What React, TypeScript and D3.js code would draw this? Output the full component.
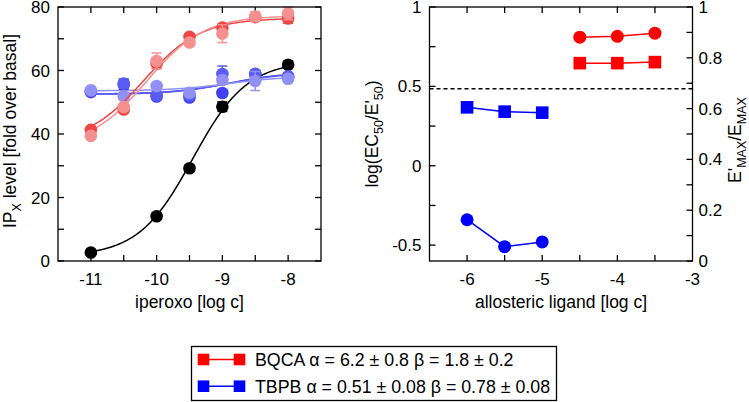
import React from "react";
import * as d3 from "d3";

// ---------- DATA ----------
// Left panel: iperoxo concentration-response
const ipX = [-11, -10.5, -10, -9.5, -9, -8.5, -8];
const blackX = [-11, -10, -9.5, -9, -8];
const blackY = [2.7, 14.1, 29.2, 48.6, 61.8];
const blackErr = [0.8, 1, 1, 1.5, 1];

const red1Y = [41.3, 47.7, 62.2, 70.6, 73.5, 76.8, 76.4];
const red1Err = [1, 1, 1.5, 1, 1, 1, 1.5];
const red2Y = [39.4, 48.5, 63.0, 68.8, 71.6, 77.0, 78.0];
const red2Err = [1, 1, 2.5, 1, 2.8, 1.5, 2];

const blue1Y = [53.2, 55.6, 51.8, 51.5, 52.9, 58.8, 57.8];
const blue1Err = [1, 1.5, 1, 1, 1, 1, 1];
const blue2Y = [53.5, 55.9, 52.2, 52.2, 58.9, 59.0, 58.2];
const blue2Err = [1, 1.5, 1, 1.5, 2.5, 1, 1];
const blue3Y = [53.8, 51.9, 55.1, 53.0, 57.0, 56.7, 57.4];
const blue3Err = [1, 1, 1, 1, 1, 3, 1];

// fitted curve parameters: [bottom, top, logEC50, hill]
const blackFit = [1.5, 63, -9.45, 1.05];
const red1Fit = [37, 76.5, -10.2, 1];
const red2Fit = [36, 77.3, -10.15, 1];
const blue1Fit = [52.5, 59.5, -8.9, 1];
const blue2Fit = [52.6, 59.3, -8.9, 1];
const blue3Fit = [53.6, 58.2, -8.9, 1];

// Right panel: allosteric ligand
const tbpbX = [-6, -5.5, -5];
const bqcaX = [-4.5, -4, -3.5];
const tbpbLogRatio = [-0.34, -0.51, -0.48];
const bqcaLogRatio = [0.81, 0.815, 0.835];
const tbpbEmaxRatio = [0.605, 0.588, 0.584];
const bqcaEmaxRatio = [0.779, 0.779, 0.783];
const dashedLevel = 0.485;

// tick labels
const leftXTicks = [-11, -10, -9, -8];
const leftYTicks = [0, 20, 40, 60, 80];
const rightXTicks = [-6, -5, -4, -3];
const rightYLTicks = [-0.5, 0, 0.5, 1];
const rightYRTicks = [0, 0.2, 0.4, 0.6, 0.8, 1];

const legendLabels = [
  "BQCA \u03b1 = 6.2 \u00b1 0.8 \u03b2 = 1.8 \u00b1 0.2",
  "TBPB \u03b1 = 0.51 \u00b1 0.08 \u03b2 = 0.78 \u00b1 0.08",
];

// ---------- STYLE ----------
const FONT = "'Liberation Sans', Arial, Helvetica, sans-serif";
const C_BLACK = "#000";
const C_RED1 = "#f04545";
const C_RED2 = "#f59090";
const C_BLUE1 = "#4040f2";
const C_BLUE2 = "#5a5af5";
const C_BLUE3 = "#9090f5";
const C_RED = "#ff0000";
const C_BLUE = "#0000ff";

const W = 749, H = 402;
const L = { x0: 58, x1: 321, y0: 7, y1: 261 };
const R = { x0: 429.5, x1: 692.5, y0: 7, y1: 261 };
const TICK = 6;

const xL = d3.scaleLinear().domain([-11.5, -7.5]).range([L.x0, L.x1]);
const yL = d3.scaleLinear().domain([0, 80]).range([L.y1, L.y0]);
const xR = d3.scaleLinear().domain([-6.5, -3]).range([R.x0, R.x1]);
const yRL = d3.scaleLinear().domain([-0.6, 1]).range([R.y1, R.y0]);
const yRR = d3.scaleLinear().domain([0, 1]).range([R.y1, R.y0]);

const fitFn = (p: number[]) => (x: number) =>
  p[0] + (p[1] - p[0]) / (1 + Math.pow(10, (p[2] - x) * p[3]));

const curveXs = d3.range(-11, -7.999, 0.02);

function FitCurve({ p, color }: { p: number[]; color: string }) {
  const f = fitFn(p);
  const line = d3
    .line<number>()
    .x((d) => xL(d))
    .y((d) => yL(f(d)));
  return <path d={line(curveXs) || ""} fill="none" stroke={color} strokeWidth={1.5} />;
}

function Points({ xs, ys, errs, color }: { xs: number[]; ys: number[]; errs: number[]; color: string }) {
  return (
    <g>
      {xs.map((x, i) => {
        const cx = xL(x);
        const yt = yL(ys[i] + errs[i]);
        const yb = yL(ys[i] - errs[i]);
        return (
          <g key={i}>
            <line x1={cx} x2={cx} y1={yt} y2={yb} stroke={color} strokeWidth={1.5} />
            <line x1={cx - 5} x2={cx + 5} y1={yt} y2={yt} stroke={color} strokeWidth={1.5} />
            <line x1={cx - 5} x2={cx + 5} y1={yb} y2={yb} stroke={color} strokeWidth={1.5} />
            <circle cx={cx} cy={yL(ys[i])} r={6.3} fill={color} />
          </g>
        );
      })}
    </g>
  );
}

function RightSeries({ xs, ys, scale, color, shape }: { xs: number[]; ys: number[]; scale: d3.ScaleLinear<number, number>; color: string; shape: "circle" | "square" }) {
  const line = d3
    .line<number>()
    .x((d, i) => xR(xs[i]))
    .y((d) => scale(d));
  return (
    <g>
      <path d={line(ys) || ""} fill="none" stroke={color} strokeWidth={1.5} />
      {xs.map((x, i) =>
        shape === "circle" ? (
          <circle key={i} cx={xR(x)} cy={scale(ys[i])} r={6.5} fill={color} />
        ) : (
          <rect key={i} x={xR(x) - 6.3} y={scale(ys[i]) - 6.3} width={12.6} height={12.6} fill={color} />
        )
      )}
    </g>
  );
}

const tickStyle = { fontFamily: FONT, fontSize: 17, fill: "#000" } as const;
const titleStyle = { fontFamily: FONT, fontSize: 17.5, fill: "#000" } as const;

export default function App() {
  const lxMinor = d3.range(-11, -7.99, 0.5);
  const lyMinor = d3.range(0, 80.01, 10);
  const rxMinor = d3.range(-6, -3.01, 0.5);
  const ryLMinor = d3.range(-0.5, 1.01, 0.25);
  const ryRMinor = d3.range(0, 1.001, 0.1);
  const ax = { stroke: "#000", strokeWidth: 1.3 };

  return (
    <svg width={W} height={H} style={{ position: "absolute", left: 0, top: 0, background: "#fff" }}>
      <rect x={0} y={0} width={W} height={H} fill="#fff" />
      {/* ---------- LEFT PANEL ---------- */}
      <g>
        {lxMinor.map((v, i) => (
          <g key={"lx" + i}>
            <line x1={xL(v)} x2={xL(v)} y1={L.y1} y2={L.y1 - TICK} {...ax} />
            <line x1={xL(v)} x2={xL(v)} y1={L.y0} y2={L.y0 + TICK} {...ax} />
          </g>
        ))}
        {lyMinor.map((v, i) => (
          <g key={"ly" + i}>
            <line x1={L.x0} x2={L.x0 + TICK} y1={yL(v)} y2={yL(v)} {...ax} />
            <line x1={L.x1} x2={L.x1 - TICK} y1={yL(v)} y2={yL(v)} {...ax} />
          </g>
        ))}
        {leftXTicks.map((v) => (
          <text key={"lxt" + v} x={xL(v)} y={285} textAnchor="middle" style={tickStyle}>
            {v}
          </text>
        ))}
        {leftYTicks.map((v) => (
          <text key={"lyt" + v} x={L.x0 - 8} y={yL(v) + 6} textAnchor="end" style={tickStyle}>
            {v}
          </text>
        ))}
        <text x={(L.x0 + L.x1) / 2} y={308} textAnchor="middle" style={titleStyle}>
          iperoxo [log c]
        </text>
        <text transform={`translate(16,131) rotate(-90)`} textAnchor="middle" style={titleStyle}>
          IP
          <tspan dy={5} fontSize={12.5}>X</tspan>
          <tspan dy={-5}> level [fold over basal]</tspan>
        </text>

        <FitCurve p={blackFit} color={C_BLACK} />
        <Points xs={blackX} ys={blackY} errs={blackErr} color={C_BLACK} />

        <FitCurve p={blue1Fit} color={C_BLUE1} />
        <FitCurve p={blue2Fit} color={C_BLUE2} />
        <FitCurve p={blue3Fit} color={C_BLUE3} />
        <Points xs={ipX} ys={blue1Y} errs={blue1Err} color={C_BLUE1} />
        <Points xs={ipX} ys={blue2Y} errs={blue2Err} color={C_BLUE2} />
        <Points xs={ipX} ys={blue3Y} errs={blue3Err} color={C_BLUE3} />

        <FitCurve p={red1Fit} color={C_RED1} />
        <FitCurve p={red2Fit} color={C_RED2} />
        <Points xs={ipX} ys={red1Y} errs={red1Err} color={C_RED1} />
        <Points xs={ipX} ys={red2Y} errs={red2Err} color={C_RED2} />

        <rect x={L.x0} y={L.y0} width={L.x1 - L.x0} height={L.y1 - L.y0} fill="none" {...ax} />
      </g>

      {/* ---------- RIGHT PANEL ---------- */}
      <g>
        {rxMinor.map((v, i) => (
          <g key={"rx" + i}>
            <line x1={xR(v)} x2={xR(v)} y1={R.y1} y2={R.y1 - TICK} {...ax} />
            <line x1={xR(v)} x2={xR(v)} y1={R.y0} y2={R.y0 + TICK} {...ax} />
          </g>
        ))}
        {ryLMinor.map((v, i) => (
          <line key={"ryl" + i} x1={R.x0} x2={R.x0 + TICK} y1={yRL(v)} y2={yRL(v)} {...ax} />
        ))}
        {ryRMinor.map((v, i) => (
          <line key={"ryr" + i} x1={R.x1} x2={R.x1 - TICK} y1={yRR(v)} y2={yRR(v)} {...ax} />
        ))}
        {rightXTicks.map((v) => (
          <text key={"rxt" + v} x={xR(v)} y={285} textAnchor="middle" style={tickStyle}>
            {v}
          </text>
        ))}
        {rightYLTicks.map((v) => (
          <text key={"rylt" + v} x={R.x0 - 8} y={yRL(v) + 6} textAnchor="end" style={tickStyle}>
            {v}
          </text>
        ))}
        {rightYRTicks.map((v) => (
          <text key={"ryrt" + v} x={R.x1 + 6} y={yRR(v) + 6} textAnchor="start" style={tickStyle}>
            {v}
          </text>
        ))}
        <text x={(R.x0 + R.x1) / 2} y={308} textAnchor="middle" style={titleStyle}>
          allosteric ligand [log c]
        </text>
        <text transform={`translate(378,134) rotate(-90)`} textAnchor="middle" style={titleStyle}>
          log(EC
          <tspan dy={5} fontSize={12.5}>50</tspan>
          <tspan dy={-5}>/E'</tspan>
          <tspan dy={5} fontSize={12.5}>50</tspan>
          <tspan dy={-5}>)</tspan>
        </text>
        <text transform={`translate(741,140) rotate(-90)`} textAnchor="middle" style={titleStyle}>
          E'
          <tspan dy={5} fontSize={12.5}>MAX</tspan>
          <tspan dy={-5}>/E</tspan>
          <tspan dy={5} fontSize={12.5}>MAX</tspan>
        </text>

        <line
          x1={R.x0}
          x2={R.x1}
          y1={yRL(dashedLevel)}
          y2={yRL(dashedLevel)}
          stroke="#000"
          strokeWidth={1.4}
          strokeDasharray="4,3"
        />

        <RightSeries xs={tbpbX} ys={tbpbLogRatio} scale={yRL} color={C_BLUE} shape="circle" />
        <RightSeries xs={tbpbX} ys={tbpbEmaxRatio} scale={yRR} color={C_BLUE} shape="square" />
        <RightSeries xs={bqcaX} ys={bqcaLogRatio} scale={yRL} color={C_RED} shape="circle" />
        <RightSeries xs={bqcaX} ys={bqcaEmaxRatio} scale={yRR} color={C_RED} shape="square" />

        <rect x={R.x0} y={R.y0} width={R.x1 - R.x0} height={R.y1 - R.y0} fill="none" {...ax} />
      </g>

      {/* ---------- LEGEND ---------- */}
      <g>
        <rect x={191.5} y={346.5} width={365} height={54} fill="#fff" stroke="#000" strokeWidth={1.3} />
        {legendLabels.map((lab, i) => {
          const cy = 359.5 + i * 26.7;
          const col = i === 0 ? C_RED : C_BLUE;
          return (
            <g key={"lg" + i}>
              <line x1={203.5} x2={239.5} y1={cy} y2={cy} stroke={col} strokeWidth={1.5} />
              <rect x={203.5 - 5.8} y={cy - 5.8} width={11.6} height={11.6} fill={col} />
              <rect x={239.5 - 5.8} y={cy - 5.8} width={11.6} height={11.6} fill={col} />
              <text x={255} y={cy + 6.3} style={{ fontFamily: FONT, fontSize: 17.8, fill: "#000" }}>
                {lab}
              </text>
            </g>
          );
        })}
      </g>
    </svg>
  );
}
